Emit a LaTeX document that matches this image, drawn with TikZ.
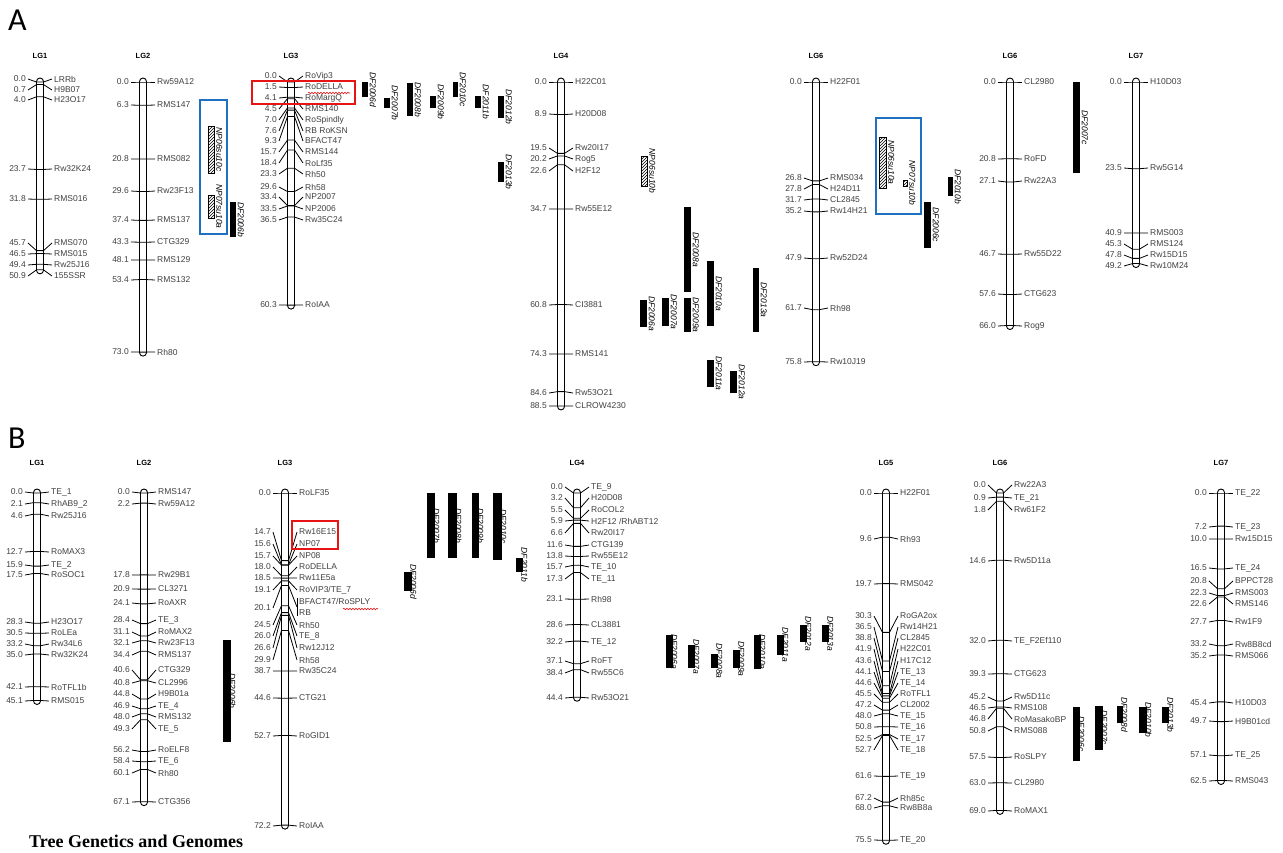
\documentclass[tikz,border=0pt]{standalone}
\usepackage{fontspec}
\setmainfont{Liberation Sans}
\newfontfamily\capfont{Carlito}
\newfontfamily\serfont{Liberation Serif}
\usetikzlibrary{patterns,decorations.pathmorphing}
\definecolor{boxblue}{RGB}{30,112,192}
\definecolor{boxred}{RGB}{232,20,20}

% linkage group: x, top, px per cM, length (cM), title, title y
\newcommand{\setchr}[6]{%
  \def\cx{#1}\def\cy{#2}\def\cs{#3}%
  \pgfmathsetmacro\yb{#2+#4*#3}%
  \draw[chrbar] (#1-3.5,#2-4) rectangle (#1+3.5,\yb+4);
  \node[lgtitle] (\pnl#5) at (#1,#6) {#5};
}
% marker: cM, left label y, right label y, name
\newcommand{\mk}[4]{%
  \pgfmathsetmacro\my{\cy+#1*\cs}%
  \draw[tick] (\cx-12,#2) -- (\cx-3.5,\my) -- (\cx+3.5,\my) -- (\cx+12,#3);
  \node[num] at (\cx-14,#2) {#1};
  \node[mname] at (\cx+14,#3) {#4};
}
% QTL bars: x1, y1, x2, y2, label
\newcommand{\qtl}[5]{%
  \fill[black] (#1,#2) rectangle (#3,#4);
  \node[qlab] at (#3+1.5,{(#2+#4)/2}) {#5};
}
\newcommand{\qtlb}[5]{%
  \fill[black] (#1,#2) rectangle (#3,#4);
  \node[qlab] at (#3-2,{(#2+#4)/2}) {#5};
}
\newcommand{\hqtl}[5]{%
  \draw[hbar] (#1,#2) rectangle (#3,#4);
  \node[qlab] at (#3+2,{(#2+#4)/2}) {#5};
}

\begin{document}
\begin{tikzpicture}[x=1pt,y=-1pt]
  \tikzset{
    chrbar/.style={draw=black, fill=white, line width=0.9pt, rounded corners=3.5pt},
    tick/.style={line width=0.8pt, black},
    num/.style={anchor=east, inner sep=0pt, text=black!75, font=\fontsize{8.5}{9}\selectfont},
    mname/.style={anchor=west, inner sep=0pt, text=black!75, font=\fontsize{8.5}{9}\selectfont},
    lgtitle/.style={inner sep=0pt, font=\bfseries\fontsize{7.5}{8}\selectfont},
    qlab/.style={rotate=-90, anchor=south, inner sep=0pt, font=\itshape\fontsize{8.5}{9}\selectfont},
    hbar/.style={draw=black, line width=0.7pt, pattern=north east lines},
    bluebox/.style={draw=boxblue, line width=2pt},
    redbox/.style={draw=boxred, line width=2pt},
    squiggle/.style={draw=boxred, line width=0.6pt, decorate,
      decoration={snake, amplitude=0.8pt, segment length=3pt}}
  }
  \useasboundingbox (0,0) rectangle (1283,852);

  % Panel A
  \def\pnl{A}
  \node[anchor=base west, inner sep=0pt, font=\capfont\fontsize{32}{34}\selectfont] (labA) at (8,30) {A};

  % LG1
  \setchr{40}{82}{3.69}{50.9}{LG1}{56}
  \mk{0.0}{79}{79}{LRRb}
  \mk{0.7}{90}{90}{H9B07}
  \mk{4.0}{100}{100}{H23O17}
  \mk{23.7}{169}{169}{Rw32K24}
  \mk{31.8}{199}{199}{RMS016}
  \mk{45.7}{243}{243}{RMS070}
  \mk{46.5}{254}{254}{RMS015}
  \mk{49.4}{265}{265}{Rw25J16}
  \mk{50.9}{276}{276}{155SSR}

  % LG2
  \setchr{143}{82}{3.7}{73.0}{LG2}{56}
  \mk{0.0}{82}{82}{Rw59A12}
  \mk{6.3}{105}{105}{RMS147}
  \mk{20.8}{159}{159}{RMS082}
  \mk{29.6}{191}{191}{Rw23F13}
  \mk{37.4}{220}{220}{RMS137}
  \mk{43.3}{242}{242}{CTG329}
  \mk{48.1}{260}{260}{RMS129}
  \mk{53.4}{280}{280}{RMS132}
  \mk{73.0}{352}{352}{Rh80}
  \draw[bluebox] (200,100) rectangle (227,234);
  \hqtl{208}{126}{214}{173}{NP06su10c}
  \hqtl{208}{195}{214}{218}{NP07su10a}
  \qtl{230}{202}{236}{237}{DF2006b}

  % LG3
  \setchr{291}{82}{3.7}{60.3}{LG3}{56}
  \mk{0.0}{76}{76}{RoVip3}
  \mk{1.5}{87}{87}{RoDELLA}
  \mk{4.1}{98}{98}{RoMargQ}
  \mk{4.5}{109}{109}{RMS140}
  \mk{7.0}{120}{120}{RoSpindly}
  \mk{7.6}{131}{131}{RB RoKSN}
  \mk{9.3}{141}{141}{BFACT47}
  \mk{15.7}{152}{152}{RMS144}
  \mk{18.4}{163}{163}{RoLf35}
  \mk{23.3}{174}{174}{Rh50}
  \mk{29.6}{187}{187}{Rh58}
  \mk{33.4}{197}{197}{NP2007}
  \mk{33.5}{209}{209}{NP2006}
  \mk{36.5}{220}{220}{Rw35C24}
  \mk{60.3}{305}{305}{RoIAA}
  \draw[redbox] (252,81) rectangle (355,104);
  \draw[squiggle] (308,93) -- (350,93);
  \qtl{362}{82}{368}{97}{DF2006d}
  \qtl{384}{98}{390}{108}{DF2007b}
  \qtl{407}{83}{413}{116}{DF2008b}
  \qtl{430}{96}{436}{108}{DF2009b}
  \qtl{453}{82}{458}{97}{DF2010c}
  \qtl{475}{96}{481}{108}{DF2011b}
  \qtl{498}{96}{504}{118}{DF2012b}
  \qtl{498}{162}{504}{182}{DF2013b}

  % LG4
  \setchr{561}{82}{3.66}{88.5}{LG4}{56}
  \mk{0.0}{82}{82}{H22C01}
  \mk{8.9}{114}{114}{H20D08}
  \mk{19.5}{148}{148}{Rw20I17}
  \mk{20.2}{159}{159}{Rog5}
  \mk{22.6}{171}{171}{H2F12}
  \mk{34.7}{209}{209}{Rw55E12}
  \mk{60.8}{305}{305}{CI3881}
  \mk{74.3}{354}{354}{RMS141}
  \mk{84.6}{393}{393}{Rw53O21}
  \mk{88.5}{406}{406}{CLROW4230}
  \hqtl{641}{156}{647}{186}{NP06su10b}
  \qtl{640}{300}{647}{327}{DF2006a}
  \qtl{662}{298}{669}{326}{DF2007a}
  \qtl{684}{207}{691}{292}{DF2008a}
  \qtl{684}{298}{691}{332}{DF2009a}
  \qtl{707}{261}{714}{326}{DF2010a}
  \qtl{707}{360}{714}{387}{DF2011a}
  \qtl{730}{371}{737}{393}{DF2012a}
  \qtl{753}{268}{759}{332}{DF2013a}

  % LG5
  \setchr{816}{82}{3.69}{75.8}{LG6}{56}
  \mk{0.0}{82}{82}{H22F01}
  \mk{26.8}{178}{178}{RMS034}
  \mk{27.8}{189}{189}{H24D11}
  \mk{31.7}{200}{200}{CL2845}
  \mk{35.2}{211}{211}{Rw14H21}
  \mk{47.9}{258}{258}{Rw52D24}
  \mk{61.7}{308}{308}{Rh98}
  \mk{75.8}{362}{362}{Rw10J19}
  \draw[bluebox] (876,118) rectangle (921,214);
  \hqtl{879}{137}{886}{188}{NP06su10a}
  \hqtl{903}{180}{907}{186}{NP07su10b}
  \qtl{924}{202}{931}{248}{DF2006c}
  \qtl{948}{177}{953}{196}{DF2010b}

  % LG6
  \setchr{1010}{82}{3.69}{66.0}{LG6}{56}
  \mk{0.0}{82}{82}{CL2980}
  \mk{20.8}{159}{159}{RoFD}
  \mk{27.1}{181}{181}{Rw22A3}
  \mk{46.7}{254}{254}{Rw55D22}
  \mk{57.6}{294}{294}{CTG623}
  \mk{66.0}{326}{326}{Rog9}
  \qtl{1073}{82}{1080}{173}{DF2007c}

  % LG7
  \setchr{1136}{82}{3.69}{49.2}{LG7}{56}
  \mk{0.0}{82}{82}{H10D03}
  \mk{23.5}{168}{168}{Rw5G14}
  \mk{40.9}{233}{233}{RMS003}
  \mk{45.3}{244}{244}{RMS124}
  \mk{47.8}{255}{255}{Rw15D15}
  \mk{49.2}{266}{266}{Rw10M24}

  % Panel B
  \def\pnl{B}
  \node[anchor=base west, inner sep=0pt, font=\capfont\fontsize{32}{34}\selectfont] (labB) at (8,448) {B};

  % LG1
  \setchr{37}{493}{4.6}{45.1}{LG1}{463}
  \mk{0.0}{492}{492}{TE\_1}
  \mk{2.1}{504}{504}{RhAB9\_2}
  \mk{4.6}{516}{516}{Rw25J16}
  \mk{12.7}{552}{552}{RoMAX3}
  \mk{15.9}{565}{565}{TE\_2}
  \mk{17.5}{575}{575}{RoSOC1}
  \mk{28.3}{622}{622}{H23O17}
  \mk{30.5}{633}{633}{RoLEa}
  \mk{33.2}{644}{644}{Rw34L6}
  \mk{35.0}{655}{655}{Rw32K24}
  \mk{42.1}{687}{687}{RoTFL1b}
  \mk{45.1}{701}{701}{RMS015}

  % LG2
  \setchr{144}{493}{4.6}{67.1}{LG2}{463}
  \mk{0.0}{492}{492}{RMS147}
  \mk{2.2}{504}{504}{Rw59A12}
  \mk{17.8}{575}{575}{Rw29B1}
  \mk{20.9}{589}{589}{CL3271}
  \mk{24.1}{603}{603}{RoAXR}
  \mk{28.4}{620}{620}{TE\_3}
  \mk{31.1}{632}{632}{RoMAX2}
  \mk{32.1}{643}{643}{Rw23F13}
  \mk{34.4}{655}{655}{RMS137}
  \mk{40.6}{670}{670}{CTG329}
  \mk{40.8}{683}{683}{CL2996}
  \mk{44.8}{694}{694}{H9B01a}
  \mk{46.9}{706}{706}{TE\_4}
  \mk{48.0}{717}{717}{RMS132}
  \mk{49.3}{729}{729}{TE\_5}
  \mk{56.2}{750}{750}{RoELF8}
  \mk{58.4}{761}{761}{TE\_6}
  \mk{60.1}{773}{773}{Rh80}
  \mk{67.1}{802}{802}{CTG356}
  \qtlb{223}{640}{231}{742}{DF2006b}

  % LG3
  \setchr{285}{493}{4.6}{72.2}{LG3}{463}
  \mk{0.0}{493}{493}{RoLF35}
  \mk{14.7}{532}{532}{Rw16E15}
  \mk{15.6}{544}{544}{NP07}
  \mk{15.7}{556}{556}{NP08}
  \mk{18.0}{567}{567}{RoDELLA}
  \mk{18.5}{578}{578}{Rw11E5a}
  \mk{19.1}{590}{590}{RoVIP3/TE\_7}
  \mk{20.1}{608}{607}{}
  \draw[tick] (\cx+12,598) -- (\cx+12,616);
  \node[mname] (bfact) at (\cx+14,601) {BFACT47/RoSPLY};
  \node[mname] (rb) at (\cx+14,613) {RB};
  \mk{24.5}{625}{625}{Rh50}
  \mk{26.0}{636}{636}{TE\_8}
  \mk{26.6}{648}{648}{Rw12J12}
  \mk{29.9}{660}{660}{Rh58}
  \mk{38.7}{671}{671}{Rw35C24}
  \mk{44.6}{698}{698}{CTG21}
  \mk{52.7}{736}{736}{RoGID1}
  \mk{72.2}{826}{826}{RoIAA}
  \draw[redbox] (292,521) rectangle (338,549);
  \draw[squiggle] (343,609) -- (378,609);
  \qtlb{404}{572}{412}{591}{DF2006d}
  \qtlb{427}{493}{435}{558}{DF2007b}
  \qtlb{448}{493}{457}{558}{DF2008b}
  \qtlb{472}{493}{479}{558}{DF2009b}
  \qtlb{493}{493}{502}{560}{DF2010c}
  \qtlb{516}{558}{523}{572}{DF2011b}

  % LG4
  \setchr{577}{493}{4.6}{44.4}{LG4}{463}
  \mk{0.0}{487}{487}{TE\_9}
  \mk{3.2}{498}{498}{H20D08}
  \mk{5.5}{510}{510}{RoCOL2}
  \mk{5.9}{521}{521}{H2F12 /RhABT12}
  \mk{6.6}{533}{533}{Rw20I17}
  \mk{11.6}{545}{545}{CTG139}
  \mk{13.8}{556}{556}{Rw55E12}
  \mk{15.7}{567}{567}{TE\_10}
  \mk{17.3}{579}{579}{TE\_11}
  \mk{23.1}{599}{599}{Rh98}
  \mk{28.6}{625}{625}{CL3881}
  \mk{32.2}{642}{642}{TE\_12}
  \mk{37.1}{661}{661}{RoFT}
  \mk{38.4}{673}{673}{Rw55C6}
  \mk{44.4}{698}{698}{Rw53O21}
  \qtlb{666}{635}{673}{668}{DF2006a}
  \qtlb{688}{645}{695}{668}{DF2007a}
  \qtlb{711}{654}{718}{668}{DF2008a}
  \qtlb{733}{650}{740}{668}{DF2009a}
  \qtlb{754}{635}{761}{669}{DF2010a}
  \qtlb{777}{635}{784}{655}{DF2011a}
  \qtlb{800}{625}{807}{642}{DF2012a}
  \qtlb{822}{625}{829}{642}{DF2013a}

  % LG5
  \setchr{886}{493}{4.6}{75.5}{LG5}{463}
  \mk{0.0}{493}{493}{H22F01}
  \mk{9.6}{539}{539}{Rh93}
  \mk{19.7}{584}{584}{RMS042}
  \mk{30.3}{616}{616}{RoGA2ox}
  \mk{36.5}{627}{627}{Rw14H21}
  \mk{38.8}{638}{638}{CL2845}
  \mk{41.9}{649}{649}{H22C01}
  \mk{43.6}{661}{661}{H17C12}
  \mk{44.1}{672}{672}{TE\_13}
  \mk{44.6}{683}{683}{TE\_14}
  \mk{45.5}{694}{694}{RoTFL1}
  \mk{47.2}{705}{705}{CL2002}
  \mk{48.0}{716}{716}{TE\_15}
  \mk{50.8}{727}{727}{TE\_16}
  \mk{52.5}{739}{739}{TE\_17}
  \mk{52.7}{750}{750}{TE\_18}
  \mk{61.6}{776}{776}{TE\_19}
  \mk{67.2}{798}{798}{Rh85c}
  \mk{68.0}{808}{808}{Rw8B8a}
  \mk{75.5}{840}{840}{TE\_20}

  % LG6
  \setchr{1000}{493}{4.6}{69.0}{LG6}{463}
  \mk{0.0}{485}{485}{Rw22A3}
  \mk{0.9}{498}{498}{TE\_21}
  \mk{1.8}{510}{510}{Rw61F2}
  \mk{14.6}{561}{561}{Rw5D11a}
  \mk{32.0}{641}{641}{TE\_F2Ef110}
  \mk{39.3}{674}{674}{CTG623}
  \mk{45.2}{697}{697}{Rw5D11c}
  \mk{46.5}{708}{708}{RMS108}
  \mk{46.8}{719}{719}{RoMasakoBP}
  \mk{50.8}{731}{731}{RMS088}
  \mk{57.5}{757}{757}{RoSLPY}
  \mk{63.0}{783}{783}{CL2980}
  \mk{69.0}{811}{811}{RoMAX1}
  \qtlb{1073}{707}{1080}{761}{DF2006c}
  \qtlb{1095}{706}{1103}{750}{DF2007c}
  \qtlb{1117}{706}{1123}{723}{DF2008d}
  \qtlb{1139}{707}{1147}{733}{DF2010b}
  \qtlb{1162}{707}{1169}{723}{DF2013b}

  % LG7
  \setchr{1221}{493}{4.6}{62.5}{LG7}{463}
  \mk{0.0}{493}{493}{TE\_22}
  \mk{7.2}{527}{527}{TE\_23}
  \mk{10.0}{539}{539}{Rw15D15}
  \mk{16.5}{568}{568}{TE\_24}
  \mk{20.8}{581}{581}{BPPCT28}
  \mk{22.3}{593}{593}{RMS003}
  \mk{22.6}{604}{604}{RMS146}
  \mk{27.7}{622}{622}{Rw1F9}
  \mk{33.2}{644}{644}{Rw8B8cd}
  \mk{35.2}{656}{656}{RMS066}
  \mk{45.4}{703}{703}{H10D03}
  \mk{49.7}{721}{721}{H9B01cd}
  \mk{57.1}{755}{755}{TE\_25}
  \mk{62.5}{781}{781}{RMS043}

  \node[anchor=west, inner sep=0pt, font=\serfont\bfseries\fontsize{18}{20}\selectfont] (journal) at (29,841) {Tree Genetics and Genomes};
\end{tikzpicture}
\end{document}
